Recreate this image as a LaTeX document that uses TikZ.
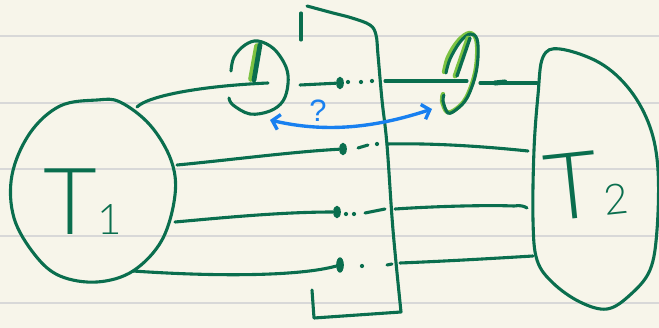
\documentclass[tikz,border=0pt]{standalone}
\usepackage{fontspec}
\setmainfont{Liberation Sans}
\newfontfamily\thinhand{Lato Light}
\usetikzlibrary{arrows.meta,shapes.geometric}
\definecolor{paper}{RGB}{247,245,234}
\definecolor{ruling}{RGB}{216,216,216}
\definecolor{ink}{RGB}{10,110,78}
\definecolor{lime}{RGB}{124,194,66}
\definecolor{sky}{RGB}{24,128,240}
\begin{document}
\begin{tikzpicture}[
    x={(0.025cm,0cm)},
    y={(0cm,-0.025cm)},
    pen/.style={draw=ink, line width=2.2pt, line cap=round, line join=round},
    glow/.style={draw=lime, line width=3pt, line cap=round, line join=round},
    blob/.style={ellipse, fill=ink, inner sep=0pt, minimum width=5.5pt, minimum height=9pt},
    dot/.style={circle, fill=ink, inner sep=0pt, minimum size=3pt},
    hand/.style={text=ink, inner sep=0pt, font=\thinhand\fontsize{66}{66}\selectfont},
]

% Page size
\def\W{659}
\def\H{328}
\useasboundingbox (0,0) rectangle (\W,\H);

% Paper and ruled lines
\fill[paper] (0,0) rectangle (\W,\H);
\foreach \y in {36,103,169,236,303}
    \draw[ruling, line width=1pt] (0,\y) -- (\W,\y);

% Blob T1 (left)
\draw[pen] plot[smooth cycle, tension=0.6] coordinates {(97,100) (60,106) (30,133) (12,175) (14,218) (35,255) (60,276) (97,282) (133,271) (162,240) (175,195) (171,160) (150,125) (120,102)};
\node[hand, anchor=base west] (t1) at (43,234) {T{\fontsize{30}{30}\selectfont 1}};

% Blob T2 (right)
\draw[pen] plot[smooth cycle, tension=0.6] coordinates {(543,57) (560,49) (600,63) (630,90) (650,127) (658,170) (657,230) (650,270) (630,295) (607,309) (580,302) (553,283) (537,260) (533,220) (534,150) (538,95)};
\node[hand, anchor=base west, rotate=6] (t2) at (548,222) {T\kern3pt{\fontsize{30}{30}\selectfont 2}};

% The cut
\draw[pen] (301,13) -- (301,40);
\draw[pen] plot[smooth, tension=0.6] coordinates {(307,6) (333,13) (352,18) (370,25) (376,35) (378,55) (382,100) (387,145) (393,230) (401,312)} -- (314,318) -- (312,290);

% End points of the strands
\coordinate (o1) at (137,107);
\coordinate (o2) at (177,165);
\coordinate (o3) at (175,222);
\coordinate (o4) at (133,271);
\coordinate (i1) at (268,83);
\coordinate (s1) at (300,85);
\coordinate (c1) at (385,81);
\coordinate (c2) at (387,144);
\coordinate (c3) at (395,209);
\coordinate (c4) at (400,263);
\coordinate (e1) at (467,81);
\coordinate (f1) at (480,83);
\coordinate (g1) at (537,83);
\coordinate (g2) at (528,151);
\coordinate (g3) at (527,208);
\coordinate (g4) at (533,256);

% Blobs where the strands stop
\node[blob] (d1) at (340,83) {};
\node[blob] (d2) at (343,149) {};
\node[blob] (d3) at (337,212) {};
\node[blob, minimum height=11pt] (d4) at (340,265) {};

% Strand 1 with its two loops
\draw[pen] (o1) .. controls (148,96) and (200,86) .. (i1);
\draw[pen] plot[smooth, tension=0.6] coordinates {(231,71) (234,57) (245,45) (258,41) (274,49) (286,67) (288,84) (283,101) (270,111) (250,114) (233,105) (229,98)};
\draw[lime, line width=4pt, line cap=round] (257,46) -- (251,79);
\draw[ink, line width=3.4pt, line cap=round] (260,45) -- (254,80);
\draw[pen] (s1) -- (d1);
\foreach \x/\y [count=\k] in {348/82, 361/82, 372/81}
    \node[dot] (p1\k) at (\x,\y) {};
\draw[pen] (c1) -- (e1);
\draw[glow] plot[smooth, tension=0.6] coordinates {(444,72) (448,57) (458,41) (469,33) (476,39) (477,57) (474,77) (466,98) (456,109) (447,112) (442,101) (443,94)};
\draw[pen] plot[smooth, tension=0.6] coordinates {(446,73) (450,59) (460,42) (470,34) (477,39) (478,57) (475,77) (467,98) (457,109) (448,113) (443,101) (444,95)};
\draw[lime, line width=3.4pt, line cap=round] (468,38) -- (455,76);
\draw[ink, line width=2.4pt, line cap=round] (470,38) -- (457,76);
\draw[pen] (f1) -- (g1);
\draw[ink, line width=3.6pt, line cap=round] (495,83) -- (505,82);

% Strand 2
\draw[pen] (o2) .. controls (230,160) and (290,152) .. (d2);
\draw[pen] (358,148) -- (368,145);
\node[dot] (p21) at (377,144) {};
\draw[pen] (c2) .. controls (430,143) and (480,146) .. (g2);

% Strand 3
\draw[pen] (o3) .. controls (220,218) and (280,212) .. (d3);
\node[dot] (p31) at (346,214) {};
\node[dot] (p32) at (354,214) {};
\draw[pen] (365,213) -- (385,209);
\draw[pen] (c3) .. controls (440,206) and (490,205) .. (514,206) .. controls (520,205) and (524,206) .. (g3);

% Strand 4
\draw[pen] (o4) .. controls (220,277) and (300,276) .. (d4);
\node[dot] (p41) at (362,266) {};
\draw[pen] (387,265) -- (392,264);
\draw[pen] (c4) .. controls (450,261) and (500,258) .. (g4);

% Question between the two loops
\coordinate (al) at (270,120);
\coordinate (ar) at (432,109);
\draw[sky, line width=2.4pt, line cap=round, {Straight Barb[length=5pt,width=11pt]}-{Straight Barb[length=5pt,width=11pt]}] (al) .. controls (330,134) and (380,126) .. (ar);
\node[text=sky, font=\fontsize{22}{22}\selectfont] (q) at (318,111) {?};

\end{tikzpicture}
\end{document}
